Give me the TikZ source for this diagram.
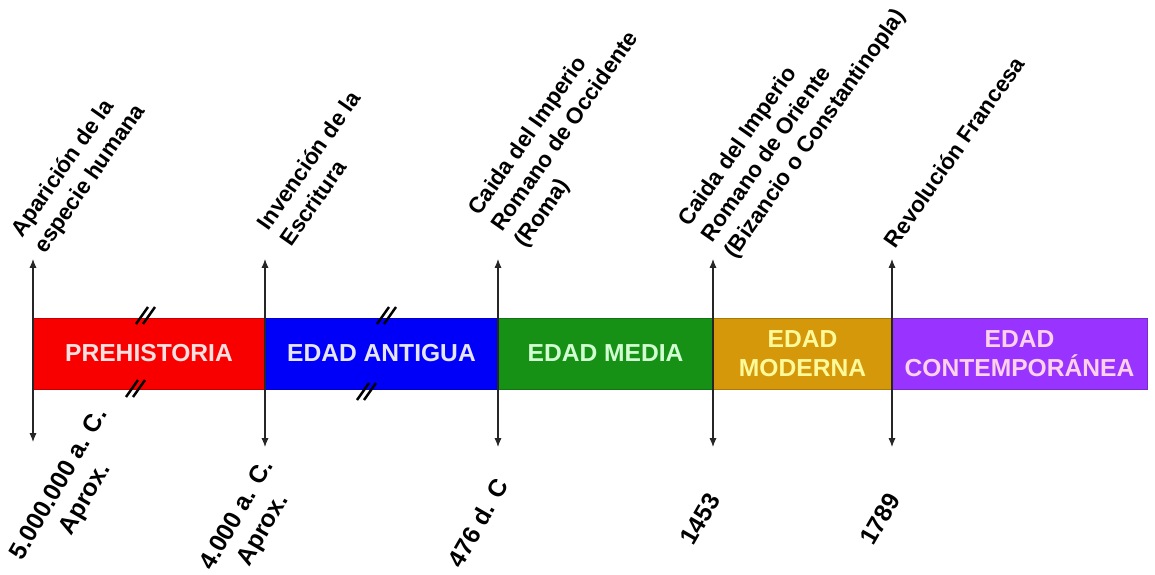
\documentclass[tikz,border=0pt]{standalone}
\usepackage{fontspec}
\setmainfont{Liberation Sans}
\usetikzlibrary{positioning,arrows.meta}
\definecolor{prehColor}{RGB}{248, 0, 0}
\definecolor{antColor}{RGB}{0, 0, 248}
\definecolor{medColor}{RGB}{22, 145, 22}
\definecolor{modColor}{RGB}{212, 152, 10}
\definecolor{conColor}{RGB}{153, 51, 255}

\begin{document}
\begin{tikzpicture}[
    period/.style={minimum height=1.42cm, inner sep=0pt, outer sep=0pt, line width=0.5pt, font=\fontsize{14}{16.5}\selectfont\bfseries, align=center},
    event/.style={rotate=55, align=left, inner sep=0pt, font=\fontsize{12.8}{16}\selectfont\bfseries},
    date/.style={rotate=60, align=center, inner sep=0pt, font=\fontsize{14}{17}\selectfont\bfseries},
    tick/.style={{Latex[length=5pt, width=4pt]}-{Latex[length=5pt, width=4pt]}, line width=0.6pt, black!85},
    cut/.style={line width=1.4pt, black}
]
    \useasboundingbox (0,0) rectangle (23.1,11.48);

    % the ages
    \node[period, fill=prehColor, draw=prehColor!80!black, text=red!12!white, minimum width=4.64cm] (pre) at (2.98,4.41) {PREHISTORIA};
    \node[period, fill=antColor, draw=antColor!80!black, text=blue!10!white, minimum width=4.66cm, right=0pt of pre] (ant) {EDAD ANTIGUA};
    \node[period, fill=medColor, draw=medColor!80!black, text=green!18!white, minimum width=4.3cm, right=0pt of ant] (med) {EDAD MEDIA};
    \node[period, fill=modColor, draw=modColor!80!black, text=yellow!40!white, minimum width=3.58cm, right=0pt of med] (mod) {EDAD\\MODERNA};
    \node[period, fill=conColor, draw=conColor!80!black, text=magenta!18!white, minimum width=5.1cm, right=0pt of mod] (con) {EDAD\\CONTEMPORÁNEA};

    % break marks
    \draw[cut] (2.72,5.0) -- (2.96,5.34) (2.86,5.0) -- (3.10,5.34);
    \draw[cut] (2.52,3.54) -- (2.76,3.88) (2.66,3.54) -- (2.90,3.88);
    \draw[cut] (7.54,5.0) -- (7.78,5.34) (7.68,5.0) -- (7.92,5.34);
    \draw[cut] (7.14,3.48) -- (7.38,3.82) (7.28,3.48) -- (7.52,3.82);

    % arrow ends
    \coordinate (up1) at ([yshift=1.18cm]pre.north west);
    \coordinate (dn1) at ([yshift=-1.06cm]pre.south west);
    \coordinate (up2) at ([yshift=1.18cm]ant.north west);
    \coordinate (dn2) at ([yshift=-1.16cm]ant.south west);
    \coordinate (up3) at ([yshift=1.18cm]med.north west);
    \coordinate (dn3) at ([yshift=-1.16cm]med.south west);
    \coordinate (up4) at ([yshift=1.18cm]mod.north west);
    \coordinate (dn4) at ([yshift=-1.16cm]mod.south west);
    \coordinate (up5) at ([yshift=1.18cm]con.north west);
    \coordinate (dn5) at ([yshift=-1.16cm]con.south west);

    \draw[tick] (dn1) -- (up1);
    \draw[tick] (dn2) -- (up2);
    \draw[tick] (dn3) -- (up3);
    \draw[tick] (dn4) -- (up4);
    \draw[tick] (dn5) -- (up5);

    % events
    \node[event] (apar) at (1.58,8.06) {Aparición de la\\especie humana};
    \node[event] (escr) at (6.40,8.12) {Invención de la\\Escritura};
    \node[event] (roma) at (11.32,8.84) {Caida del Imperio\\Romano de Occidente\\(Roma)};
    \node[event] (biz) at (15.86,9.12) {Caida del Imperio\\Romano de Oriente\\(Bizancio o Constantinopla)};
    \node[event] (rev) at (19.08,8.44) {Revolución Francesa};

    % dates
    \node[date] (d1) at (1.46,1.64) {5.000.000 a. C.\\Aprox.};
    \node[date] (d2) at (5.02,1.02) {4.000 a. C.\\Aprox.};
    \node[date] (d3) at (9.56,1.02) {476 d. C};
    \node[date] (d4) at (14.0,1.10) {1453};
    \node[date] (d5) at (17.6,1.10) {1789};
\end{tikzpicture}
\end{document}
